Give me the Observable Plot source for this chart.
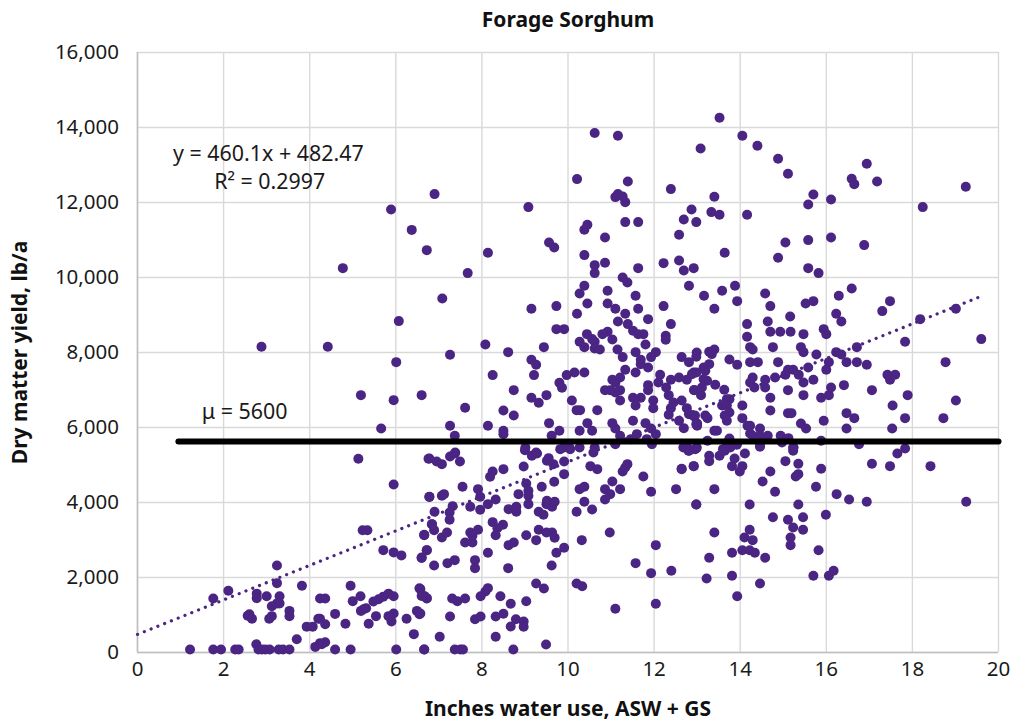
<!DOCTYPE html>
<html><head><meta charset="utf-8">
<script src="https://cdn.jsdelivr.net/npm/d3@7"></script>
<script src="https://cdn.jsdelivr.net/npm/@observablehq/plot@0.6"></script>
<style>html,body{margin:0;background:#fff}svg{display:block}</style>
</head><body><div id="c"></div><script>
const xTicks=[0,2,4,6,8,10,12,14,16,18,20];
const yTicks=[0,2000,4000,6000,8000,10000,12000,14000,16000];
const slope=460.1, intercept=482.47, trendX=[0,19.6];
const meanY=5627, meanX=[0.95,20];
const lowLeft=[[5.95,4480],[6.78,4150],[3.24,2320],[3.24,1850],[2.11,1645],[1.76,1440],[3.82,1780],[2.77,1570],[2.77,1450],[3,1500],[3.3,1500],[3.24,1310],[3.12,1235],[3.3,1310],[3.53,1110],[3.53,970],[2.56,980],[2.6,1020],[2.66,900],[3.06,900],[3.12,970],[4.95,1780],[5.18,1500],[5,1370],[4.24,1440],[4.36,1440],[4.59,1030],[4.83,765],[4.2,900],[4.24,900],[4.36,755],[3.93,690],[4.07,690],[3.7,355],[2.76,220],[1.22,80],[1.76,80],[1.94,80],[2.27,80],[2.35,80],[2.81,80],[2.89,80],[2.97,80],[3.07,80],[3.28,80],[3.38,80],[3.53,80],[4.13,150],[4.24,250],[4.36,275],[4.28,220],[4.59,80],[4.95,80],[6.01,80],[6.66,80],[6.42,490],[5.23,3260],[5.34,3260],[5.71,2730],[5.95,2670],[6.13,2590],[6.6,2520],[6.72,2730],[6.66,3130],[6.84,3420],[5.19,1110],[5.25,1155],[5.31,1180],[5.48,1360],[5.6,1420],[5.71,1490],[5.83,1570],[5.95,1500],[5.54,970],[5.37,765],[5.83,970],[5.95,1040],[5.9,830],[6.25,900],[6.49,1110],[6.55,1020],[6.55,1715],[6.66,1510],[6.72,1450]];
const lowMiddle=[[6.78,5175],[6.95,5094],[7.07,5023],[7.26,5227],[7.37,5307],[7.49,5094],[9,5396],[9.16,5245],[9.28,5307],[8.97,4960],[9.51,5112],[9.55,5183],[9.66,5023],[9.91,5094],[9.91,4756],[9.68,4552],[9.39,4418],[9.03,4507],[9.08,4312],[9.08,4178],[9.08,3956],[8.85,4223],[8.5,4890],[8.25,4827],[8.19,4685],[7.55,4418],[7.91,4356],[7.96,4152],[8.32,4080],[8.14,3956],[7.96,3805],[7.73,3885],[6.78,4152],[7.07,4178],[7.12,4223],[7.32,3903],[7.25,3734],[7.25,3538],[6.9,3752],[6.84,3423],[6.89,3263],[6.66,3138],[7.07,3067],[7.19,3200],[7.61,2934],[7.78,2934],[7.73,3200],[7.91,3272],[7.78,3112],[8.25,3476],[8.49,3405],[8.36,3316],[8.32,3129],[8.62,2863],[8.74,2934],[9.03,3129],[9.26,2996],[9.32,3272],[9.5,3200],[9.63,3200],[9.69,3058],[8.62,3823],[8.8,3885],[8.8,3752],[9.32,3752],[9.43,3672],[9.5,3956],[9.63,3885],[9.69,4018],[9.51,4045],[10.2,3752],[10.38,4018],[10.56,3814],[10.27,4356],[10.38,4418],[10.86,4356],[10.98,4223],[10.86,4080],[11.21,4356],[11.03,4560],[11.27,4827],[11.33,4934],[11.38,5023],[11.75,4694],[11.93,4285],[12.51,4356],[12.98,3947],[12.64,4890],[12.92,4970],[10.52,4970],[10.68,4890],[10.97,3200],[10.32,2996],[12.04,2863],[11.57,2383],[11.93,2116],[12.4,2178],[9.91,2791],[9.73,2658],[9.62,2320],[8.61,2250],[8.14,2658],[7.84,2463],[7.84,2250],[7.37,2463],[7.2,2383],[6.89,2320],[6.72,2729],[6.6,2534],[9.26,1840],[9.44,1707],[10.2,1840],[10.33,1769],[11.1,1165],[12.04,1298],[9.03,1369],[8.67,1298],[8.43,1502],[8.14,1716],[8.08,1627],[7.97,1502],[7.61,1440],[7.43,1369],[7.31,1440],[6.72,1440],[6.57,1690],[6.6,1510],[6.57,1040],[7.26,960],[7.84,889],[7.97,960],[8.32,960],[8.5,1031],[8.79,889],[8.97,827],[8.67,693],[8.97,685],[8.32,418],[7.02,418],[6.66,80],[7.37,80],[7.5,80],[7.56,80],[8.73,80],[9.49,213]];
const lowRight=[[19.25,4018],[18.42,4970],[17.48,4970],[17.06,5032],[17.65,5307],[17.83,5441],[16.76,5556],[15.88,4898],[15.35,5032],[15.05,5103],[15.23,5378],[15.23,5467],[14.7,4827],[14.52,4560],[14.81,4285],[15.35,4756],[15.29,4694],[15.76,4418],[16.24,4223],[16.53,4080],[16.94,4018],[15.35,3947],[15.99,3672],[15.46,3609],[15.11,3538],[15.23,3334],[15.46,3272],[15.17,3067],[15.17,2863],[15.82,2729],[16.17,2178],[16.06,2045],[15.7,2045],[14.76,3609],[14.22,3947],[13.4,4356],[12.98,3947],[13.4,3200],[14.22,3272],[14.1,3067],[14.29,2996],[14.05,2729],[14.22,2729],[14.34,2658],[13.81,2658],[14.58,2525],[13.28,2525],[13.22,1974],[13.81,2045],[14.46,1840],[13.93,1502],[14.11,5307],[13.87,5174],[14.05,4970],[13.81,4970],[13.99,4827],[13.52,5245],[13.64,5378],[13.28,5245],[13.28,5103],[12.92,4970],[12.64,4898],[12.8,5378],[12.98,5441],[14.46,5485],[13.69,5510],[13.92,5540]];
const upperLeft=[[5.89,11815],[6.37,11270],[6.72,10730],[4.77,10250],[6.07,8837],[4.42,8152],[2.88,8152],[6.01,7743],[5.19,6863],[5.95,6730],[6.6,6863],[5.66,5974],[5.13,5165],[6.76,5165]];
const topMiddle=[[10.62,13851],[11.16,13780],[10.21,12624],[11.39,12562],[12.39,12357],[11.16,12224],[11.1,12144],[11.27,12162],[11.33,12010],[9.08,11877],[6.9,12224],[7.67,10117],[8.14,10659],[9.56,10935],[9.68,10801],[10.45,11406],[10.38,11272],[10.86,11068],[11.33,11477],[11.63,11477],[10.38,10597],[10.62,10330],[10.86,10392],[10.62,10117],[11.63,10250],[11.27,10001],[11.38,9868],[12.22,10383],[12.58,10455],[12.69,10188],[12.92,10250],[12.58,11139],[12.69,11548],[12.87,11815],[12.98,11477],[13.08,13442]];
const midMiddle=[[7.08,9441],[9.15,9166],[9.73,9237],[10.38,9779],[10.27,9575],[10.45,9308],[10.21,9032],[10.92,9646],[10.92,9308],[11.1,9166],[11.33,9032],[11.57,9512],[11.63,9166],[11.86,8890],[11.16,8828],[11.39,8757],[11.51,8579],[11.63,8490],[11.75,8490],[12.39,8757],[12.22,9237],[12.81,9779],[12.27,8446],[12.27,8339],[11.8,8214],[11.57,8010],[12.04,8010],[11.93,7877],[11.69,7806],[11.69,7690],[11.86,7601],[11.57,7468],[11.33,7539],[11.15,8081],[11.27,7877],[11.03,8348],[10.92,8552],[10.8,8490],[10.44,8490],[10.27,8286],[10.38,8143],[10.56,8357],[10.62,8286],[10.62,8108],[10.74,8081],[9.73,8623],[9.91,8623],[9.44,8143],[8.61,8010],[8.08,8214],[7.26,7939],[8.25,7397],[9.15,7806],[9.26,7672],[9.21,7397],[8.74,6996],[9.15,6792],[9.32,6659],[9.5,6863],[9.8,7192],[9.86,7059],[9.97,7397],[10.15,7468],[10.38,7468],[10.09,6721],[10.2,6463],[10.28,6463],[10.68,6463],[11.21,6721],[10.86,6996],[11.03,7272],[11.21,7334],[11.1,7192],[10.98,6996],[11.1,6934],[11.21,6996],[11.51,6792],[11.69,6792],[11.57,6587],[11.86,7130],[11.86,6996],[11.98,6721],[11.98,6516],[11.51,6178],[11.03,6116],[11.1,5974],[11.21,5778],[11.8,6116],[11.93,5974],[12.04,5823],[11.6,5823],[12.14,7405],[12.1,7201],[12.39,7272],[12.58,7334],[12.76,7272],[12.92,7468],[12.99,8001],[12.64,7877],[12.81,7743],[12.28,7068],[12.34,6863],[12.45,6667],[12.34,6339],[12.39,6516],[12.64,6721],[12.76,6516],[12.81,6356],[12.93,6294],[12.58,6178],[12.69,5983],[12.98,6090],[12.93,6996],[9.56,6116],[9.8,5912],[9.62,5778],[10.27,5912],[10.45,6116],[10.56,5912],[8.5,5912],[8.5,5823],[8.14,6045],[7.26,6045],[7.37,5778],[8.5,6454],[8.74,6321],[7.61,6525]];
const topRight=[[13.52,14259],[14.05,13780],[14.4,13513],[14.88,13166],[15.11,12766],[16.94,13033],[16.59,12633],[16.65,12490],[17.18,12562],[19.24,12419],[15.7,12215],[16.11,12082],[15.58,11948],[18.24,11877],[13.4,12153],[13.33,11744],[13.52,11673],[14.16,11673],[13.64,10659],[15.05,10935],[15.58,10997],[16.11,11068],[16.88,10864],[14.88,10526],[15.58,10250],[15.82,10117]];
const midRight=[[13.88,9779],[13.58,9646],[13.16,9512],[13.93,9370],[13.4,9166],[14.58,9575],[14.7,9237],[15.52,9308],[15.7,9370],[16.29,9512],[16.59,9708],[17.48,9370],[17.3,9104],[16.23,9032],[16.35,8828],[15.16,8961],[14.64,8828],[14.16,8757],[14.16,8419],[14.7,8552],[14.93,8552],[15.17,8552],[15.47,8490],[15.94,8623],[16,8490],[18.18,8890],[19.01,9166],[19.6,8357],[17.83,8286],[16.71,8143],[14.23,8143],[14.29,8081],[14.76,8143],[15.41,8143],[15.47,8010],[15.77,7948],[16.23,8010],[16.35,7948],[16.06,7743],[16.47,7743],[16.71,7743],[16.94,7672],[18.77,7743],[14.88,7743],[14.23,7743],[14.41,7743],[13.75,7814],[13.93,7672],[12.98,7885],[13.28,8019],[13.4,8081],[13.34,7957],[13.28,7690],[13.15,7601],[12.98,7468],[13.19,7512],[12.88,7423],[13.15,7290],[13.23,7245],[13.42,7139],[13.63,7005],[13.11,7068],[12.93,7000],[13.09,6863],[15.58,7601],[16,7539],[15.11,7539],[15.23,7539],[15.05,7405],[15.36,7405],[15.47,7201],[15.7,7272],[14.81,7334],[14.58,7272],[14.29,7334],[14.23,7201],[14.33,7068],[14.58,7068],[15.11,6996],[14.7,6792],[15.47,6863],[15.88,6792],[16.06,6863],[16.11,7068],[16.41,7130],[17.06,6996],[17.42,7405],[17.6,7405],[17.48,7272],[17.89,6863],[17.54,6587],[19.01,6721],[17.83,6250],[18.72,6250],[17.53,5974],[16.47,6383],[16.65,6250],[16.47,5974],[15.94,6178],[15.11,6383],[15.19,6383],[14.7,6454],[14.05,6587],[13.69,6756],[13.75,6756],[13.58,6587],[13.69,6587],[13.75,6401],[13.64,6321],[13.69,6178],[13.19,6321],[13.24,6250],[12.95,6321],[13,6107],[13,6045],[14.05,6250],[14.17,6045],[14.23,6045],[14.46,5974],[14.23,5841],[14.64,5778],[14.29,5778],[14.46,5778],[14.94,5778],[15.12,5716],[15.41,6107],[15.53,5974],[13.4,5912],[13.46,5912],[13.75,5707],[13.24,5645],[15.88,5645],[12.95,5423],[13.6,5423],[13.77,5467],[13.92,5556],[14.46,5512],[14.97,5600],[15.24,5467]];
const nearMean=[[9.01,5467],[9.26,5334],[9.9,5467],[10.03,5467],[10.27,5467],[10.62,5467],[11.1,5556],[11.46,5690],[11.83,5690],[11.95,5556],[12.68,5467],[12.99,5467],[7.38,5334],[9.82,5423],[10.05,5423],[10.59,5334],[12.76,5512],[12.81,5378]];
const points=[...lowLeft,...lowMiddle,...lowRight,...upperLeft,...topMiddle,...midMiddle,...topRight,...midRight,...nearMean];
const trend=trendX.map(x=>[x,slope*x+intercept]);
const mean=meanX.map(x=>[x,meanY]);
const purple="#4b2583";
const fontFamily="'Noto Sans', sans-serif";
const chart=Plot.plot({
  width:1019,height:724,
  marginLeft:137,marginRight:21,marginTop:52,marginBottom:72,
  style:{fontFamily,background:"#fff",color:"#1a1a1a"},
  x:{domain:[0,20],ticks:xTicks,label:null},
  y:{domain:[0,16000],ticks:yTicks,label:null},
  marks:[
    Plot.gridX(xTicks,{stroke:"#d9d9d9",strokeOpacity:1,strokeWidth:1.4}),
    Plot.gridY(yTicks,{stroke:"#d9d9d9",strokeOpacity:1,strokeWidth:1.4}),
    Plot.ruleX([0],{stroke:"#bfbfbf",strokeWidth:1.6}),
    Plot.ruleY([0],{stroke:"#bfbfbf",strokeWidth:1.6}),
    Plot.axisX({ticks:xTicks,tickSize:0,tickPadding:9,fontSize:20.5,label:null,tickFormat:d3.format("d")}),
    Plot.axisY({ticks:yTicks,tickSize:0,tickPadding:18.5,fontSize:20.5,label:null,tickFormat:d3.format(",")}),
    Plot.line(trend,{x:"0",y:"1",stroke:purple,strokeWidth:3.2,strokeDasharray:"0.1 7.2",strokeLinecap:"round"}),
    Plot.dot(points,{x:"0",y:"1",r:5,fill:purple}),
    Plot.line(mean,{x:"0",y:"1",stroke:"#000",strokeWidth:6,strokeLinecap:"round"}),
    Plot.text(["y = 460.1x + 482.47"],{x:3.04,y:13300,fontSize:21.4,fill:"#1a1a1a"}),
    Plot.text(["R² = 0.2997"],{x:3.07,y:12530,fontSize:21.4,fill:"#1a1a1a"}),
    Plot.text(["μ = 5600"],{x:2.49,y:6400,fontSize:21.4,fill:"#1a1a1a"}),
    Plot.text(["Forage Sorghum"],{x:10,y:16000,dy:-32,fontSize:21,fontWeight:700,fill:"#111"}),
    Plot.text(["Inches water use, ASW + GS"],{x:10,y:0,dy:57,fontSize:21,fontWeight:700,fill:"#111"}),
    Plot.text(["Dry matter yield, lb/a"],{x:0,y:8000,dx:-117,rotate:-90,fontSize:21,fontWeight:700,fill:"#111"})
  ]
});
document.getElementById("c").append(chart);
</script></body></html>
